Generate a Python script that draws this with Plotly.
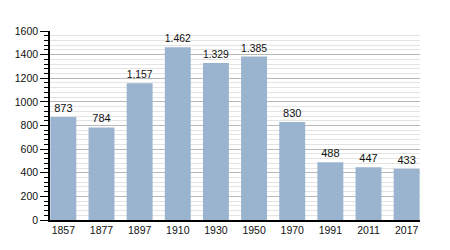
import plotly.graph_objects as go

years = ["1857", "1877", "1897", "1910", "1930", "1950", "1970", "1991", "2011", "2017"]
population = [873, 784, 1157, 1462, 1329, 1385, 830, 488, 447, 433]
labels = ["873", "784", "1.157", "1.462", "1.329", "1.385", "830", "488", "447", "433"]

fig = go.Figure(go.Bar(
    x=list(range(len(years))), y=population, text=labels,
    textposition="outside", cliponaxis=False,
    textfont=dict(size=11, color="#111", family="Liberation Sans, Arial"),
    marker=dict(color="#9ab4d0", line=dict(width=0)),
    width=0.68, hoverinfo="skip",
))

fig.update_layout(
    width=450, height=250,
    margin=dict(l=50, r=30, t=31, b=30),
    paper_bgcolor="white", plot_bgcolor="white",
    showlegend=False,
    font=dict(family="Liberation Sans, Arial", size=10.5, color="#111"),
)
fig.update_xaxes(
    range=[-0.35, 9.35], tickmode="array", tickvals=list(range(len(years))),
    ticktext=years, showgrid=False, zeroline=False,
    showline=True, linecolor="black", linewidth=1.5, ticks="", ticklabelstandoff=0,
)
fig.update_yaxes(
    range=[0, 1600], dtick=200, showgrid=True, gridcolor="#b8b8b8", gridwidth=1,
    zeroline=False, showline=True, linecolor="black", linewidth=1.5,
    ticks="outside", ticklen=8, tickcolor="black", tickwidth=1,
    minor=dict(dtick=40, ticks="outside", ticklen=4, tickcolor="black",
               showgrid=True, gridcolor="#e4e4e4", gridwidth=1),
)

fig.write_html("out.html")
